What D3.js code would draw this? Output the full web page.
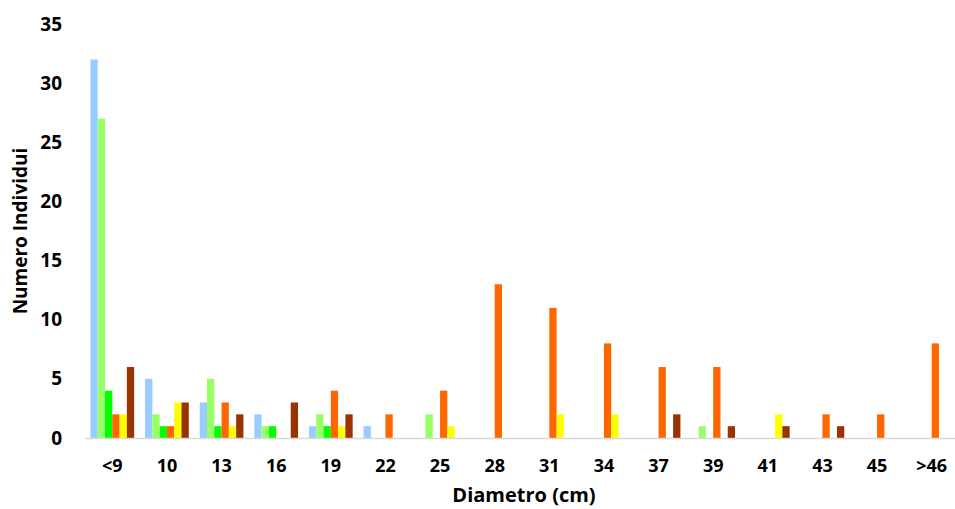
<!DOCTYPE html>
<html>
<head>
<meta charset="utf-8">
<script src="https://cdn.jsdelivr.net/npm/d3@7"></script>
<style>
  html, body { margin: 0; padding: 0; background: #fff; }
  svg { display: block; }
  text { font-family: "Open Sans", "DejaVu Sans", sans-serif; font-weight: 700; fill: #000; }
</style>
</head>
<body>
<svg id="chart" width="955" height="509"></svg>
<script>
// Diameter classes (cm)
const categories = ["<9", "10", "13", "16", "19", "22", "25", "28", "31", "34", "37", "39", "41", "43", "45", ">46"];

// Number of individuals per diameter class, one array per series
const seriesA = [32, 5, 3, 2, 1, 1, 0, 0, 0, 0, 0, 0, 0, 0, 0, 0];
const seriesB = [27, 2, 5, 1, 2, 0, 2, 0, 0, 0, 0, 1, 0, 0, 0, 0];
const seriesC = [4, 1, 1, 1, 1, 0, 0, 0, 0, 0, 0, 0, 0, 0, 0, 0];
const seriesD = [2, 1, 3, 0, 4, 2, 4, 13, 11, 8, 6, 6, 0, 2, 2, 8];
const seriesE = [2, 3, 1, 0, 1, 0, 1, 0, 2, 2, 0, 0, 2, 0, 0, 0];
const seriesF = [6, 3, 2, 3, 2, 0, 0, 0, 0, 0, 2, 1, 1, 1, 0, 0];

const seriesNames = ["A", "B", "C", "D", "E", "F"];
const seriesValues = [seriesA, seriesB, seriesC, seriesD, seriesE, seriesF];
const seriesColors = ["#99ccff", "#99ff66", "#00ff00", "#ff6600", "#ffff00", "#993300"];

const yTicks = [0, 5, 10, 15, 20, 25, 30, 35];

const svg = d3.select("#chart");

const plot = { left: 85, right: 959, top: 24, bottom: 438 };

const x0 = d3.scaleBand()
  .domain(categories)
  .range([plot.left, plot.right])
  .padding(0);

// Gap between groups is 150% of a bar width
const barW = x0.bandwidth() / (seriesNames.length + 1.5);
const gap = barW * 1.5;
const x1 = d3.scaleBand()
  .domain(seriesNames)
  .range([gap / 2, x0.bandwidth() - gap / 2])
  .padding(0);

const y = d3.scaleLinear().domain([0, 35]).range([plot.bottom, plot.top]);

// Bars
const rows = categories.map((c, i) => ({
  cat: c,
  vals: seriesNames.map((s, j) => ({ s, v: seriesValues[j][i], color: seriesColors[j] }))
}));

const groups = svg.append("g").selectAll("g")
  .data(rows)
  .join("g")
  .attr("transform", d => `translate(${x0(d.cat)},0)`);

groups.selectAll("rect")
  .data(d => d.vals.filter(v => v.v > 0))
  .join("rect")
  .attr("x", d => x1(d.s))
  .attr("width", x1.bandwidth())
  .attr("y", d => y(d.v))
  .attr("height", d => y(0) - y(d.v))
  .attr("fill", d => d.color);

// Category axis
const xAxis = d3.axisBottom(x0).tickSize(0).tickPadding(21);
const gx = svg.append("g")
  .attr("transform", `translate(0,${plot.bottom})`)
  .call(xAxis);
gx.select(".domain").attr("stroke", "#d9d9d9").attr("stroke-width", 1.5);
gx.selectAll(".tick text").style("font-size", "18px");

// Value axis
const yAxis = d3.axisLeft(y).tickValues(yTicks).tickSize(0).tickPadding(23);
const gy = svg.append("g")
  .attr("transform", `translate(${plot.left},0)`)
  .call(yAxis);
gy.select(".domain").remove();
gy.selectAll(".tick text").style("font-size", "19px");

// Axis titles
svg.append("text")
  .attr("transform", `translate(27,${231}) rotate(-90)`)
  .attr("text-anchor", "middle")
  .style("font-size", "19px")
  .text("Numero Individui");

svg.append("text")
  .attr("x", 524)
  .attr("y", 502)
  .attr("text-anchor", "middle")
  .style("font-size", "20px")
  .text("Diametro (cm)");
</script>
</body>
</html>
